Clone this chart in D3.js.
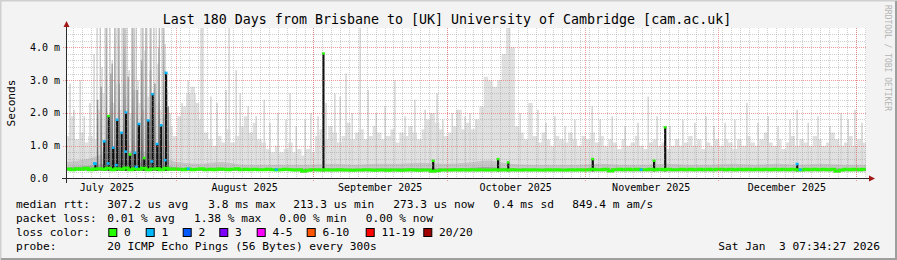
<!DOCTYPE html>
<html><head><meta charset="utf-8">
<script src="https://cdn.jsdelivr.net/npm/d3@7"></script>
<style>
html,body{margin:0;padding:0;background:#f3f3f3;}
svg{display:block;}
text{font-family:"DejaVu Sans Mono",monospace;white-space:pre;fill:#000;}
</style>
</head><body><svg id="c" width="897" height="260"></svg>
<script>
// ---------------- DATA ----------------
const title = "Last 180 Days from Brisbane to [UK] University of Cambridge [cam.ac.uk]";
const yLabel = "Seconds";
const yTickValues = [0, 1, 2, 3, 4];
const yTickLabels = ["0.0", "1.0 m", "2.0 m", "3.0 m", "4.0 m"];
const endStamp = "Sat Jan  3 07:34:27 2026";
const watermark = "RRDTOOL / TOBI OETIKER";

// daily light smoke top (ms), day 0 = Jul 7 2025 07:34
const lightTop = [
 1.3,1.9,1.2,1.4,1.1,1.3,1.2,
 2.1,2.6,1.9,2.3,2.9,2.1,2.5,2.0,2.7,2.3,2.1,2.5,1.9,2.3,2.1,2.7,1.6,
 1.3,1.9,2.2,2.6,2.8,2.3,1.8,1.4,
 1.2,1.0,1.3,1.1,1.5,1.1,1.3,
 1.6,1.9,1.4,1.7,1.2,1.1,
 0.9,0.8,1.0,0.8,0.9,1.1,0.8,0.9,0.7,0.9,0.8,
 1.3,1.5,1.2,1.6,1.4,1.1,1.3,1.7,1.2,1.4,1.5,1.2,1.3,1.6,1.4,1.2,1.3,1.5,1.1,1.4,1.3,1.6,1.4,1.2,1.5,1.8,2.0,1.7,1.5,1.3,
 1.4,1.6,2.1,1.5,1.7,1.5,1.8,2.2,3.1,3.0,2.8,3.0,3.8,4.6,4.0,1.6,1.4,1.2,2.3,1.3,1.1,1.4,1.2,1.0,1.3,1.2,1.1,1.4,1.2,1.0,1.3,
 1.2,1.4,1.1,1.3,1.0,1.2,1.1,0.9,1.2,1.0,1.1,1.3,1.0,0.9,1.1,1.2,1.0,1.1,0.9,1.0,1.2,1.0,1.1,1.3,1.0,1.2,0.9,1.1,1.0,1.2,
 1.0,1.2,1.1,0.9,1.2,1.0,1.3,1.1,1.0,1.2,1.4,1.1,1.0,1.2,0.9,1.1,1.3,1.0,1.2,1.1,1.0,1.3,1.2,1.0,1.1,1.4,1.2,1.0,1.1,1.3,1.0,1.2,1.1
];

// daily median rtt (ms)
const medianRtt = [
 0.29,0.27,0.30,0.28,0.31,0.27,0.29,0.30,0.28,0.31,0.27,0.30,0.28,0.32,0.27,0.30,0.28,0.31,0.27,0.29,0.30,0.27,0.31,0.28,0.29,
 0.28,0.27,0.29,0.27,0.28,0.30,0.27,0.28,0.27,0.29,0.28,0.27,0.28,0.30,0.27,0.28,0.27,0.28,0.27,0.27,0.28,0.27,0.26,0.27,0.28,0.27,0.26,0.27,0.22,0.25,0.27,
 0.27,0.26,0.27,0.26,0.26,0.27,0.26,0.26,0.25,0.26,0.26,0.27,0.26,0.25,0.26,0.26,0.25,0.26,0.26,0.25,0.26,0.27,0.26,0.25,0.26,0.26,0.22,0.24,0.26,0.26,
 0.26,0.27,0.26,0.27,0.26,0.27,0.26,0.27,0.26,0.26,0.27,0.26,0.27,0.26,0.27,0.26,0.26,0.27,0.26,0.27,0.26,0.26,0.27,0.26,0.27,0.26,0.26,0.27,0.26,0.27,0.26,
 0.27,0.28,0.27,0.27,0.28,0.23,0.27,0.28,0.27,0.28,0.27,0.28,0.27,0.27,0.28,0.27,0.28,0.27,0.28,0.27,0.27,0.28,0.27,0.28,0.27,0.28,0.27,0.28,0.27,0.28,
 0.28,0.27,0.28,0.27,0.28,0.27,0.28,0.27,0.28,0.27,0.28,0.27,0.28,0.27,0.28,0.27,0.28,0.27,0.26,0.28,0.27,0.28,0.27,0.28,0.27,0.28,0.22,0.26,0.28,0.27,0.28,0.27,0.28
];

// 5-day bins: dense smoke band top and lowest ping (ms)
const midTop = [0.5,0.6,0.8,0.85,0.75, 0.5,0.45,0.5,0.42,0.42,0.42, 0.42,0.45,0.42,0.45,0.45,0.48,
 0.45,0.48,0.55,0.45,0.42,0.42, 0.42,0.45,0.42,0.42,0.45,0.42, 0.42,0.45,0.42,0.45,0.42,0.45,0.42];
const minPing = [0.24,0.24,0.24,0.24,0.24, 0.23,0.23,0.23,0.23,0.23,0.23, 0.22,0.22,0.22,0.22,0.22,0.22,
 0.22,0.22,0.22,0.22,0.22,0.22, 0.22,0.22,0.22,0.22,0.22,0.22, 0.22,0.22,0.22,0.22,0.22,0.22,0.22];

// thin light-grey smoke spikes: day, top (ms)
const spikeDay = [0.9,1.8,3.2,4.1,5.4,6.3,7.0,7.7,8.1,8.8,9.2,9.9,10.4,11.0,11.5,11.9,12.6,13.1,13.7,14.2,14.9,15.8,16.2,16.9,17.8,18.2,18.9,19.8,20.3,20.7,21.6,22.3,23.4,
 26.1,27.5,29.0,30.4,30.8,32.6,34.0,36.0,36.7,38.3,39.2,41.0,42.8,44.6,45.9,47.7,49.5,50.4,51.8,53.8,55.1,
 56.7,58.5,60.5,61.7,63.0,64.4,66.2,68.0,69.8,71.8,74.0,76.3,78.5,80.8,82.1,83.5,84.8,
 86.9,88.0,89.8,90.9,92.3,102.2,106.2,108.0,110.0,112.3,114.5,
 118.4,120.2,122.9,125.8,128.7,131.0,133.0,135.9,138.8,141.5,144.0,145.8,
 148.3,150.5,153.2,155.7,158.0,160.2,162.9,164.5,167.0,169.2,171.9,174.4,176.0,177.5,179.1];
const spikeTop = [2.9,2.1,3.0,1.9,2.3,3.8,4.6,4.6,3.4,4.6,4.6,4.6,3.6,4.6,4.6,4.6,4.6,4.0,4.6,3.3,4.6,4.6,3.0,4.6,3.9,4.6,4.6,4.6,4.6,3.5,4.6,4.1,2.0,
 2.3,3.0,2.6,4.6,4.6,2.5,2.3,2.7,4.6,3.3,2.6,2.2,1.9,2.4,1.7,2.0,1.8,2.6,1.6,1.8,2.0,
 1.9,2.3,2.6,2.5,3.2,2.0,4.6,2.7,2.0,2.2,3.0,1.9,2.4,2.1,2.0,2.6,1.8,
 2.0,2.1,1.9,2.0,1.8,2.0,2.1,1.7,1.9,1.6,1.8,
 2.2,1.8,1.9,1.6,1.7,2.5,1.9,1.6,1.8,1.7,1.9,1.6,
 1.7,1.8,2.3,1.7,1.9,1.6,1.8,2.1,1.7,1.9,1.6,2.0,1.8,2.1,1.7];

// dark grey smoke columns (July)
const darkDay = [7.1,7.9,9.1,10.1,10.4,11.0,11.9,12.0,13.0,13.3,14.0,14.9,15.3,16.0,17.0,17.3,18.0,19.0,19.1,20.0,20.9,21.0,22.0,23.0];
const darkTop = [2.4,2.8,4.6,3.2,3.5,4.6,4.6,2.9,4.6,4.6,3.1,4.6,4.6,2.7,3.6,4.6,4.6,3.3,4.6,2.9,4.0,4.6,4.6,2.2];

// black (all-pings) columns: day, top (ms), loss class of median
const blackDay  = [6.6,8.6,9.6,10.6,11.5,12.5,13.5,14.4,15.5,16.4,17.6,18.5,19.5,20.5,21.4,22.5,57.9,82.6,97.2,99.5,118.5,132.3,134.8,164.5];
const blackTop  = [0.46,1.14,1.91,0.95,1.80,1.40,2.02,0.74,0.79,1.67,0.63,1.78,2.58,1.06,1.63,3.23,3.82,0.55,0.60,0.50,0.60,0.55,1.57,0.45];
const blackLoss = [1,1,0,1,1,1,1,0,1,1,0,1,1,1,1,1,0,0,0,0,0,0,0,1];

// extra median points with packet loss
const lossDotDay = [6.4,9.5,11.3,13.4,15.8,19.3,22.3,27.5,47.3,129.4,165.2];
const lossDotVal = [0.46,0.46,0.41,0.82,0.36,0.52,0.56,0.30,0.27,0.27,0.27];
const lossDotCls = [1,1,1,1,1,1,1,1,1,1,1];

// legend
const lossLabels = ["0","1","2","3","4-5","6-10","11-19","20/20"];
const lossColors = ["#26ff00","#00b8ff","#0059ff","#7e00ff","#ff00ff","#ff5500","#ff0000","#a10000"];
const rttLegend = ["median rtt:","307.2 us avg","3.8 ms max","213.3 us min","273.3 us now","0.4 ms sd","849.4 m am/s"];
const lossLegend = ["packet loss:","0.01 % avg","1.38 % max","0.00 % min","0.00 % now"];
const probeLegend = ["probe:", "20 ICMP Echo Pings (56 Bytes) every 300s"];

// ---------------- DRAW ----------------
const svg = d3.select("#c");
const W = 897, H = 260;
const DAY = 864e5;
const t0 = Date.UTC(2025,6,7,7,34,27);
const t1 = t0 + 180*DAY;
const x = d3.scaleUtc().domain([t0,t1]).range([66,866]);
const y = d3.scaleLinear().domain([0,4.59]).range([178.5,28]);
const xd = d => x(t0 + d*DAY);

// background + frame
svg.append("rect").attr("width",W).attr("height",H).attr("fill","#f3f3f3");
svg.append("path").attr("d",`M0.5,${H}V0.5H${W}`).attr("stroke","#cfcfcf").attr("stroke-width",2).attr("fill","none");
svg.append("path").attr("d",`M1,${H-1}H${W-1}V1`).attr("stroke","#9e9e9e").attr("stroke-width",2).attr("fill","none");

// plot canvas
svg.append("rect").attr("x",66).attr("y",28).attr("width",800).attr("height",150.5).attr("fill","#fff");

const defs = svg.append("defs");
defs.append("clipPath").attr("id","pc")
 .append("rect").attr("x",66).attr("y",28).attr("width",800).attr("height",150.5);
const grad = defs.append("linearGradient").attr("id","dkg").attr("gradientUnits","userSpaceOnUse")
 .attr("x1",0).attr("y1",178).attr("x2",0).attr("y2",28);
grad.append("stop").attr("offset","0").attr("stop-color","#555555");
grad.append("stop").attr("offset","0.5").attr("stop-color","#909090");
grad.append("stop").attr("offset","1").attr("stop-color","#bababa");
const g = svg.append("g").attr("clip-path","url(#pc)");

// light smoke (daily)
const dayPts = lightTop.map((v,i)=>({d:i,v})).concat([{d:180,v:lightTop[179]}]);
const binMin = d => minPing[Math.min(35,Math.floor(d/5))];
g.append("path").datum(dayPts)
 .attr("d", d3.area().curve(d3.curveStepAfter).x(p=>xd(p.d)).y0(p=>y(binMin(Math.min(p.d,179)))).y1(p=>y(p.v)))
 .attr("fill","#e0e0e0");

// light spikes
g.selectAll("line.sp").data(spikeDay).join("line")
 .attr("x1",d=>xd(d)).attr("x2",d=>xd(d))
 .attr("y1",d=>y(binMin(d))).attr("y2",(d,i)=>y(spikeTop[i]))
 .attr("stroke","#d6d6d6").attr("stroke-width",1.6);

// dense smoke band
const binPts = midTop.map((v,i)=>({d:i*5,v,m:minPing[i]})).concat([{d:180,v:midTop[35],m:minPing[35]}]);
g.append("path").datum(binPts)
 .attr("d", d3.area().curve(d3.curveMonotoneX).x(p=>xd(p.d)).y0(p=>y(p.m)).y1(p=>y(p.v)))
 .attr("fill","#c6c6c6");
g.append("path").datum(binPts)
 .attr("d", d3.area().curve(d3.curveMonotoneX).x(p=>xd(p.d)).y0(p=>y(p.m)).y1(p=>y(p.m+(p.v-p.m)*0.4)))
 .attr("fill","#a4a4a4");

// dark smoke columns
g.selectAll("line.dk").data(darkDay).join("line")
 .attr("x1",d=>xd(d)).attr("x2",d=>xd(d))
 .attr("y1",d=>y(binMin(d))).attr("y2",(d,i)=>y(darkTop[i]))
 .attr("stroke","url(#dkg)").attr("stroke-width",1.4);

// black columns
g.selectAll("rect.bk").data(blackDay).join("rect")
 .attr("x",d=>xd(d)-1).attr("width",2.2)
 .attr("y",(d,i)=>y(blackTop[i])).attr("height",(d,i)=>y(binMin(d))-y(blackTop[i]))
 .attr("fill","#111");

// median line
const medPts = medianRtt.map((v,i)=>({d:i,v})).concat([{d:180,v:medianRtt[179]}]);
g.append("path").datum(medPts)
 .attr("d", d3.line().curve(d3.curveStepAfter).x(p=>xd(p.d)).y(p=>y(p.v)))
 .attr("fill","none").attr("stroke","#26ff00").attr("stroke-width",3);

// coloured median points on columns
g.selectAll("rect.bd").data(blackDay).join("rect")
 .attr("x",d=>xd(d)-1.5).attr("width",3)
 .attr("y",(d,i)=>y(blackTop[i])-1).attr("height",2.5)
 .attr("fill",(d,i)=>lossColors[blackLoss[i]]);
g.selectAll("rect.ld").data(lossDotDay).join("rect")
 .attr("x",d=>xd(d)-1.5).attr("width",3)
 .attr("y",(d,i)=>y(lossDotVal[i])-1.2).attr("height",2.5)
 .attr("fill",(d,i)=>lossColors[lossDotCls[i]]);

// grid (on top, like rrdtool)
const grid = svg.append("g");
const minorDays = d3.utcDay.range(new Date(t0), new Date(t1)).filter(t => Math.round(t.getTime()/DAY)%2===0);
grid.selectAll("line.mv").data(minorDays).join("line")
 .attr("x1",d=>Math.round(x(d))+0.5).attr("x2",d=>Math.round(x(d))+0.5).attr("y1",28).attr("y2",178.5)
 .attr("stroke","rgba(150,150,150,0.45)").attr("stroke-dasharray","1,1");
const minorY = d3.range(0.2,4.59,0.2).filter(v=>Math.abs(v-Math.round(v))>0.05);
grid.selectAll("line.mh").data(minorY).join("line")
 .attr("x1",66).attr("x2",866).attr("y1",d=>Math.round(y(d))+0.5).attr("y2",d=>Math.round(y(d))+0.5)
 .attr("stroke","rgba(150,150,150,0.45)").attr("stroke-dasharray","1,1");
const months = d3.utcMonth.range(new Date(t0), new Date(t1));
grid.selectAll("line.Mv").data(months).join("line")
 .attr("x1",d=>Math.round(x(d))+0.5).attr("x2",d=>Math.round(x(d))+0.5).attr("y1",28).attr("y2",181)
 .attr("stroke","rgba(235,90,90,0.6)").attr("stroke-dasharray","1,1");
grid.selectAll("line.Mh").data(yTickValues.slice(1)).join("line")
 .attr("x1",63).attr("x2",866).attr("y1",d=>Math.round(y(d))+0.5).attr("y2",d=>Math.round(y(d))+0.5)
 .attr("stroke","rgba(235,90,90,0.6)").attr("stroke-dasharray","1,1");

// axes
svg.append("line").attr("x1",62).attr("x2",870).attr("y1",178.5).attr("y2",178.5).attr("stroke","#2a2a2a").attr("stroke-width",1);
svg.append("line").attr("x1",66.5).attr("x2",66.5).attr("y1",183).attr("y2",25).attr("stroke","#2a2a2a").attr("stroke-width",1);
svg.append("path").attr("d","M66.5,21L63.5,27L69.5,27Z").attr("fill","#a01818");
svg.append("path").attr("d","M875,178.5L869,175.5L869,181.5Z").attr("fill","#a01818");

// y labels
svg.selectAll("text.yl").data(yTickValues).join("text")
 .attr("x",30).attr("y",d=>y(d)+3.5).attr("font-size","10px").text((d,i)=>yTickLabels[i]);
// x labels (month centred)
const monthsAll = d3.utcMonth.range(d3.utcMonth.floor(new Date(t0)), new Date(t1));
const labelMonths = monthsAll.map(m => ({m, c: new Date((m.getTime()+d3.utcMonth.offset(m,1).getTime())/2)}))
 .filter(o => o.c.getTime()>=t0 && o.c.getTime()<=t1);
const fmt = d3.utcFormat("%B %Y");
svg.selectAll("text.xl").data(labelMonths).join("text")
 .attr("x",o=>x(o.c)).attr("y",191).attr("text-anchor","middle").attr("font-size","10px").text(o=>fmt(o.m));

// title & axis title
svg.append("text").attr("x",447).attr("y",23.5).attr("text-anchor","middle").attr("font-size","13.3px").text(title);
svg.append("text").attr("transform","translate(14.5,103) rotate(-90)").attr("text-anchor","middle").attr("font-size","11.2px").text(yLabel);
svg.append("text").attr("transform","translate(885,5) rotate(90)").attr("font-size","8px").attr("style","fill:#b4b4b4").text(watermark);

// legend
const lf = "11.2px";
const rttX = [16,107.3,208.3,293.3,393.3,493.3,572.3];
rttLegend.forEach((s,i)=>svg.append("text").attr("x",rttX[i]).attr("y",208).attr("font-size",lf).text(s));
const lossX = [16,107.3,194,279.3,365.7];
lossLegend.forEach((s,i)=>svg.append("text").attr("x",lossX[i]).attr("y",222).attr("font-size",lf).text(s));
svg.append("text").attr("x",16).attr("y",236).attr("font-size",lf).text("loss color:");
const boxX = [108.3,145.7,182.7,219.3,256.7,306.7,365.7,423.3];
lossLabels.forEach((l,i)=>{
  svg.append("rect").attr("x",boxX[i]+0.5).attr("y",228.5).attr("width",8).attr("height",8)
   .attr("fill",lossColors[i]).attr("stroke","#000").attr("stroke-width",1);
  svg.append("text").attr("x",boxX[i]+15.7).attr("y",236).attr("font-size",lf).text(l);
});
svg.append("text").attr("x",16).attr("y",250).attr("font-size",lf).text(probeLegend[0]);
svg.append("text").attr("x",107.3).attr("y",250).attr("font-size",lf).text(probeLegend[1]);
svg.append("text").attr("x",880).attr("y",250).attr("text-anchor","end").attr("font-size",lf).text(endStamp);
</script>
</body></html>
